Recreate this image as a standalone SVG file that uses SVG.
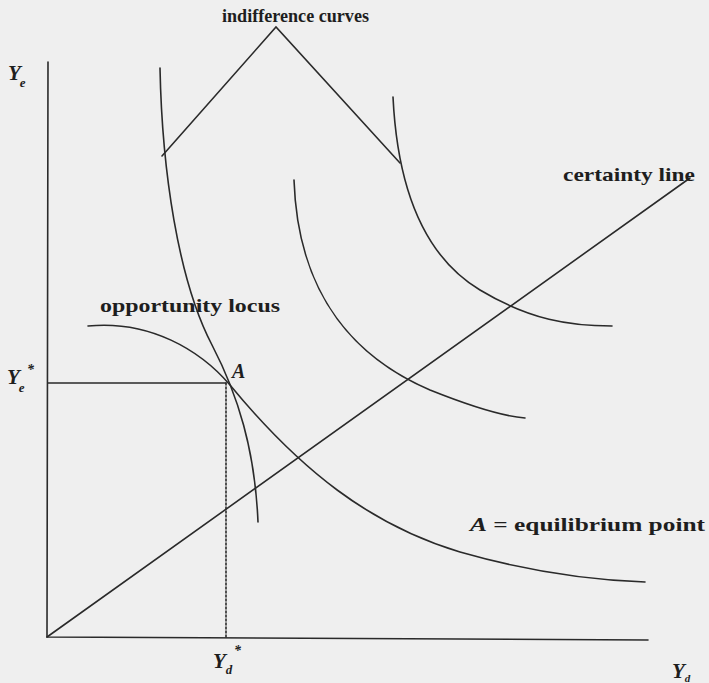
<svg xmlns="http://www.w3.org/2000/svg" width="709" height="683" viewBox="0 0 709 683">
<style>
.ln{fill:none;stroke:#2a2a2a;stroke-width:1.6;stroke-linecap:round}
.lbl{font-family:"Liberation Serif",serif;font-size:19px;fill:#1e1e1e;font-weight:bold}
.it{font-family:"Liberation Serif",serif;font-style:italic;font-weight:bold;fill:#1e1e1e}
</style>
<rect width="709" height="683" fill="#efefef"/>
<g id="axes">
<path class="ln" d="M48 62 L47 637 L648 640"/>
</g>
<g id="connectors">
<path class="ln" d="M48 383 L226 383"/>
<path class="ln" d="M226 383 L226 637" stroke-dasharray="2 2"/>
<path class="ln" d="M47 637 L690 178"/>
<path class="ln" d="M162 156 L276 27 L400 163"/>
</g>
<g id="curves">
<path id="ic1" class="ln" d="M160 68 C162 170 178 280 212 345 C238 395 255 450 258 522"/>
<path id="ic2" class="ln" d="M294 180 C298 300 360 360 430 390 C470 406 500 416 525 418"/>
<path id="ic3" class="ln" d="M393 97 C398 200 430 260 480 290 C530 320 570 326 612 326"/>
<path id="locus" class="ln" d="M88 326 C150 320 200 350 230 385 C300 470 370 525 460 552 C530 572 590 580 645 582"/>
</g>
<g id="labels">
<text class="lbl" x="222" y="22" textLength="147" lengthAdjust="spacingAndGlyphs">indifference curves</text>
<text class="lbl" x="563" y="181" textLength="132" lengthAdjust="spacingAndGlyphs">certainty line</text>
<text class="lbl" x="100" y="312" textLength="180" lengthAdjust="spacingAndGlyphs">opportunity locus</text>
<text class="lbl" x="470" y="531" textLength="235" lengthAdjust="spacingAndGlyphs"><tspan class="it">A</tspan> = equilibrium point</text>
<text class="it" x="232" y="378" font-size="20">A</text>
<text class="it" x="8" y="80" font-size="21">Y<tspan font-size="13" dy="7" dx="-1">e</tspan></text>
<text class="it" x="7" y="384" font-size="21">Y<tspan font-size="13" dy="8" dx="-1">e</tspan></text>
<text class="it" x="27" y="374" font-size="14">*</text>
<text class="it" x="213" y="668" font-size="21">Y<tspan font-size="13" dy="6">d</tspan></text>
<text class="it" x="234" y="655" font-size="14">*</text>
<text class="it" x="672" y="678" font-size="21">Y<tspan font-size="11" dy="4">d</tspan></text>
</g>
</svg>
